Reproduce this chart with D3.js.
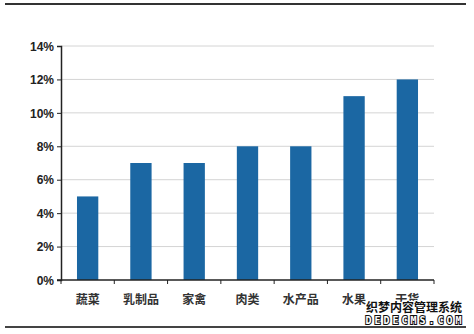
<!DOCTYPE html>
<meta charset="utf-8">
<script src="https://cdn.jsdelivr.net/npm/d3@7"></script>
<style>
  body { margin: 0; background: #fff; }
  .ylab { font-family: Arial, "Liberation Sans", sans-serif; font-weight: bold; font-size: 12px; fill: #222; }
  .xlab { font-family: "Noto Sans CJK SC", sans-serif; font-weight: bold; font-size: 12px; fill: #333; }
</style>
<body>
<div id="viz"></div>
<script>
var categories = ["蔬菜", "乳制品", "家禽", "肉类", "水产品", "水果", "干货"];
var values = [0.05, 0.07, 0.07, 0.08, 0.08, 0.11, 0.12];
var yTicks = [0, 0.02, 0.04, 0.06, 0.08, 0.10, 0.12, 0.14];

var width = 474, height = 334;
var mLeft = 61, mRight = 434, mTop = 46, mBottom = 280;

var svg = d3.select("#viz").append("svg")
  .attr("width", width)
  .attr("height", height);

// frame lines top and bottom
svg.append("line").attr("x1", 5).attr("x2", 466).attr("y1", 4).attr("y2", 4)
  .attr("stroke", "#333").attr("stroke-width", 2);
svg.append("line").attr("x1", 5).attr("x2", 466).attr("y1", 327).attr("y2", 327)
  .attr("stroke", "#444").attr("stroke-width", 2);

var x = d3.scaleBand().domain(categories).range([mLeft, mRight]).paddingInner(0.6).paddingOuter(0.3);
var y = d3.scaleLinear().domain([0, 0.14]).range([mBottom, mTop]);

// grid
svg.selectAll("line.grid")
  .data(yTicks.slice(1))
  .enter().append("line")
  .attr("class", "grid")
  .attr("x1", mLeft).attr("x2", mRight)
  .attr("y1", d => y(d)).attr("y2", d => y(d))
  .attr("stroke", "#d4d4d4").attr("stroke-width", 1);

// bars
svg.selectAll("rect.bar")
  .data(values)
  .enter().append("rect")
  .attr("class", "bar")
  .attr("x", (d, i) => x(categories[i]))
  .attr("y", d => y(d))
  .attr("width", x.bandwidth())
  .attr("height", d => mBottom - y(d))
  .attr("fill", "#1b67a3");

// y axis
var yAxis = svg.append("g")
  .attr("transform", "translate(" + mLeft + ",0)")
  .call(d3.axisLeft(y).tickValues(yTicks).tickSize(4).tickFormat(d3.format(".0%")));
yAxis.select(".domain").attr("stroke", "#222").attr("stroke-width", 1.5);
yAxis.selectAll(".tick line").attr("stroke", "#222");
yAxis.selectAll(".tick text").attr("class", "ylab").attr("x", -7).attr("dy", "0.35em");

// x axis with ticks at band edges
var xa = svg.append("g");
xa.append("line").attr("x1", mLeft - 4).attr("x2", mRight).attr("y1", mBottom).attr("y2", mBottom)
  .attr("stroke", "#222").attr("stroke-width", 1.5);
xa.selectAll("line.xt")
  .data(d3.range(categories.length + 1))
  .enter().append("line")
  .attr("class", "xt")
  .attr("x1", i => mLeft + i * x.step())
  .attr("x2", i => mLeft + i * x.step())
  .attr("y1", mBottom).attr("y2", mBottom + 4)
  .attr("stroke", "#222");
xa.selectAll("text")
  .data(categories)
  .enter().append("text")
  .attr("class", "xlab")
  .attr("x", d => x(d) + x.bandwidth() / 2)
  .attr("y", 304)
  .attr("text-anchor", "middle")
  .text(d => d);

// watermark
var wm = svg.append("g");
wm.append("text").attr("x", 414).attr("y", 312).attr("text-anchor", "middle")
  .style("font-family", "'Noto Sans CJK SC', sans-serif").style("font-size", "12px").style("font-weight", "bold")
  .attr("fill", "#111").attr("stroke", "#fff").attr("stroke-width", 2).attr("paint-order", "stroke")
  .text("织梦内容管理系统");
wm.append("text").attr("x", 415).attr("y", 324).attr("text-anchor", "middle")
  .style("font-family", "'DejaVu Sans Mono', monospace").style("font-size", "10px").style("font-weight", "bold")
  .style("letter-spacing", "3px")
  .attr("fill", "#fff").attr("stroke", "#111").attr("stroke-width", 2).attr("paint-order", "stroke")
  .text("DEDECMS.COM");
</script>
</body>
